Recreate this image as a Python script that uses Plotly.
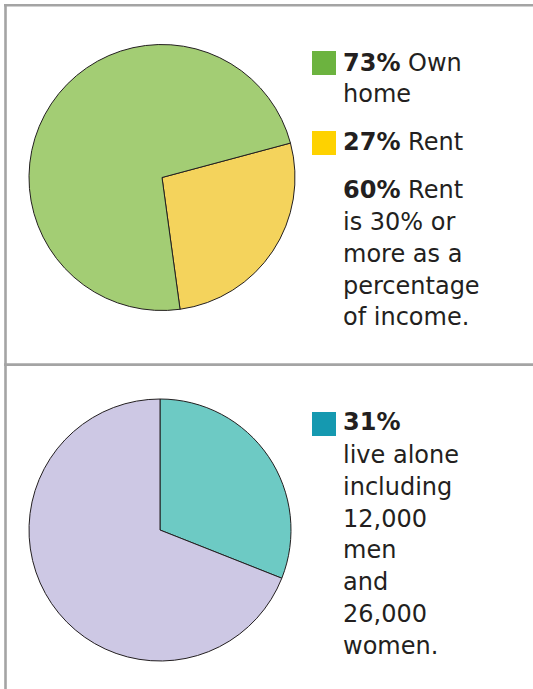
import plotly.graph_objects as go

# ---------------- data ----------------
tenure_labels = ["Rent", "Own home"]
tenure_values = [27, 73]
tenure_colors = ["#f4d35c", "#a3cd74"]
tenure_swatches = ["#6cb33f", "#fed200"]  # own, rent

rent_burden_pct = 60

living_labels = ["Live alone", "Other households"]
living_values = [31, 69]
living_colors = ["#6dcac4", "#cdc8e4"]
living_swatch = "#1599b0"

men_alone = "12,000"
women_alone = "26,000"

# ---------------- figure ----------------
W, H = 533, 689


def px(x):
    return x / W


def py(y):
    return 1 - y / H


fig = go.Figure()

# top pie: centre (162,177.5), r 133
fig.add_trace(go.Pie(
    labels=tenure_labels, values=tenure_values, sort=False,
    direction="clockwise", rotation=75,
    marker=dict(colors=tenure_colors, line=dict(color="#231f20", width=1)),
    textinfo="none", hoverinfo="label+percent", showlegend=False,
    domain=dict(x=[px(29), px(295)], y=[py(310.5), py(44.5)]),
))

# bottom pie: centre (160,530), r 131
fig.add_trace(go.Pie(
    labels=living_labels, values=living_values, sort=False,
    direction="clockwise", rotation=0,
    marker=dict(colors=living_colors, line=dict(color="#231f20", width=1)),
    textinfo="none", hoverinfo="label+percent", showlegend=False,
    domain=dict(x=[px(29), px(291)], y=[py(661), py(399)]),
))

shapes = []
border = "#a4a4a4"
# frame lines
shapes.append(dict(type="line", xref="paper", yref="paper",
                   x0=px(4), x1=px(W), y0=py(5.3), y1=py(5.3),
                   line=dict(color=border, width=2.6)))
shapes.append(dict(type="line", xref="paper", yref="paper",
                   x0=px(5.5), x1=px(5.5), y0=py(4), y1=py(H),
                   line=dict(color=border, width=2.6)))
shapes.append(dict(type="line", xref="paper", yref="paper",
                   x0=px(4), x1=px(W), y0=py(364.6), y1=py(364.6),
                   line=dict(color=border, width=2.6)))


# legend swatches
def swatch(y0, color):
    shapes.append(dict(type="rect", xref="paper", yref="paper",
                       x0=px(312), x1=px(336), y0=py(y0 + 24), y1=py(y0),
                       fillcolor=color, line=dict(width=0)))


swatch(51, tenure_swatches[0])
swatch(131, tenure_swatches[1])
swatch(412, living_swatch)

own_val = tenure_values[1]
rent_val = tenure_values[0]
alone_val = living_values[0]

top_lines = [
    (f"<b>{own_val}%</b> Own", 71.5),
    ("home", 102.7),
    (f"<b>{rent_val}%</b> Rent", 150.9),
    (f"<b>{rent_burden_pct}%</b> Rent", 198.3),
    ("is 30% or", 230.2),
    ("more as a", 262.3),
    ("percentage", 294.3),
    ("of income.", 326.0),
]
bottom_lines = [
    (f"<b>{alone_val}%</b>", 431.0),
    ("live alone", 463.3),
    ("including", 495.7),
    (men_alone, 527.3),
    ("men", 559.0),
    ("and", 590.9),
    (women_alone, 623.0),
    ("women.", 655.0),
]

FS = 24
annotations = []
for txt, base in top_lines + bottom_lines:
    annotations.append(dict(
        text=txt, xref="paper", yref="paper",
        x=px(341), y=py(base - 8.6), xanchor="left", yanchor="middle",
        showarrow=False, align="left",
        font=dict(family="DejaVu Sans", size=FS, color="#231f20"),
    ))

fig.update_layout(
    width=W, height=H,
    margin=dict(l=0, r=0, t=0, b=0),
    paper_bgcolor="white", plot_bgcolor="white",
    shapes=shapes, annotations=annotations,
    showlegend=False,
)

fig.write_html(
    "out.html",
    config={"displayModeBar": False},
    post_script="document.body.style.margin='0';document.body.style.overflow='hidden';",
)
